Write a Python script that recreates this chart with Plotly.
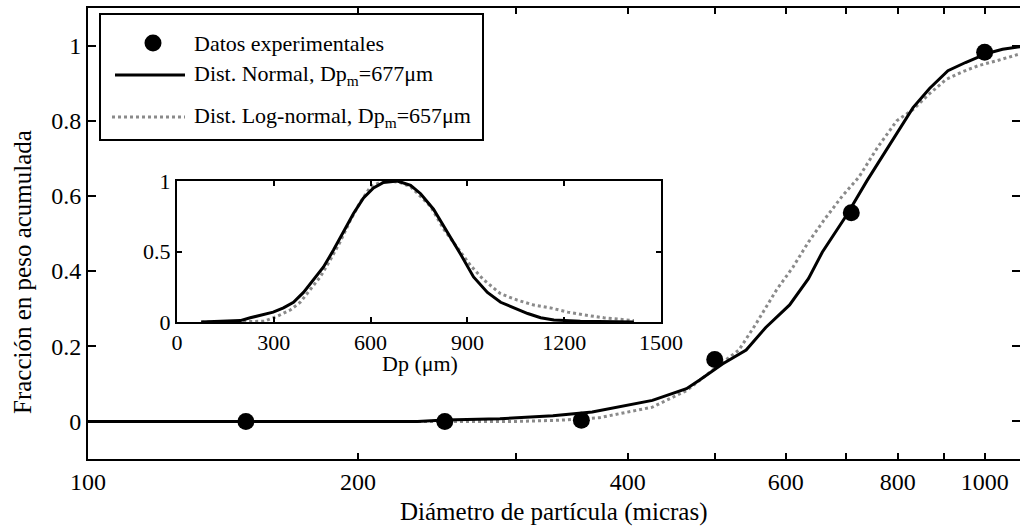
import numpy as np
import plotly.graph_objects as go

# ---------------- data ----------------
sieve_dp = [150, 250, 355, 500, 710, 1000]
frac_exp = [0.0, 0.0, 0.003, 0.165, 0.555, 0.982]

norm_dp = [100, 150, 200, 233, 250, 288, 330, 365, 426, 465, 481, 510, 542, 570, 606, 636,
           659, 702, 739, 760, 798, 832, 868, 910, 952, 1006, 1047, 1095]
norm_frac = [0.0, 0.0, 0.0, 0.0, 0.004, 0.007, 0.015, 0.025, 0.056, 0.087, 0.11, 0.153, 0.19,
             0.25, 0.31, 0.38, 0.45, 0.55, 0.64, 0.686, 0.766, 0.835, 0.886, 0.933, 0.955,
             0.979, 0.99, 0.997]

logn_dp = [100, 150, 200, 250, 300, 335, 372, 426, 465, 502, 532, 556, 586, 611, 636, 664,
           694, 724, 760, 798, 832, 868, 906, 944, 985, 1033, 1075, 1095]
logn_frac = [0.0, 0.0, 0.0, 0.0, 0.0, 0.003, 0.01, 0.038, 0.082, 0.144, 0.19, 0.26, 0.35,
             0.41, 0.477, 0.54, 0.60, 0.65, 0.73, 0.80, 0.83, 0.872, 0.91, 0.93, 0.947,
             0.96, 0.973, 0.978]

inset_norm_dp = [75, 196, 227, 267, 298, 330, 361, 392, 423, 454, 485, 516, 547, 578, 609,
                 640, 683, 724, 755, 795, 838, 879, 919, 962, 1003, 1044, 1087, 1127, 1168,
                 1250, 1330, 1416]
inset_norm_f = [0.0, 0.01, 0.03, 0.05, 0.07, 0.10, 0.14, 0.21, 0.30, 0.39, 0.51, 0.64, 0.77,
                0.88, 0.95, 0.99, 1.0, 0.97, 0.91, 0.80, 0.64, 0.48, 0.32, 0.21, 0.14, 0.10,
                0.06, 0.03, 0.015, 0.005, 0.002, 0.0]

inset_logn_dp = [75, 200, 270, 310, 351, 382, 413, 444, 475, 506, 537, 568, 600, 640, 657,
                 690, 724, 786, 826, 869, 910, 950, 1003, 1055, 1106, 1158, 1211, 1262, 1323,
                 1416]
inset_logn_f = [0.0, 0.0, 0.005, 0.04, 0.085, 0.14, 0.23, 0.32, 0.44, 0.57, 0.72, 0.85, 0.96,
                1.0, 1.0, 0.99, 0.96, 0.82, 0.66, 0.53, 0.40, 0.30, 0.20, 0.155, 0.12, 0.10,
                0.07, 0.05, 0.03, 0.01]

x_tickvals = [100, 200, 400, 600, 800, 1000]
x_ticktext = ["100", "200", "400", "600", "800", "1000"]
x_minorvals = [300, 500, 700, 900]
y_tickvals = [0, 0.2, 0.4, 0.6, 0.8, 1.0]
y_ticktext = ["0", "0.2", "0.4", "0.6", "0.8", "1"]
inset_x_ticks = [0, 300, 600, 900, 1200, 1500]
inset_y_ticks = [0, 0.5, 1]
inset_y_text = ["0", "0.5", "1"]

legend_labels = ["Datos experimentales",
                 "Dist. Normal, Dp<sub>m</sub>=677μm",
                 "Dist. Log-normal, Dp<sub>m</sub>=657μm"]

# ---------------- layout helpers ----------------
FONT = "Liberation Serif, Times New Roman, serif"
W, H = 1020, 526
L, R, T, B = 88, 0, 8, 67
pw, ph = W - L - R, H - T - B


def px(x):
    return (x - L) / pw


def py(y):
    return (H - B - y) / ph


GRAY = "#8a8a8a"

fig = go.Figure()
fig.add_trace(go.Scatter(x=logn_dp, y=logn_frac, mode="lines",
                         line=dict(color=GRAY, width=3, dash="dot"), showlegend=False))
fig.add_trace(go.Scatter(x=norm_dp, y=norm_frac, mode="lines",
                         line=dict(color="black", width=3), showlegend=False))
fig.add_trace(go.Scatter(x=sieve_dp, y=frac_exp, mode="markers",
                         marker=dict(color="black", size=17), showlegend=False))

fig.add_trace(go.Scatter(x=inset_logn_dp, y=inset_logn_f, mode="lines", xaxis="x2", yaxis="y2",
                         line=dict(color=GRAY, width=3, dash="dot"), showlegend=False))
fig.add_trace(go.Scatter(x=inset_norm_dp, y=inset_norm_f, mode="lines", xaxis="x2", yaxis="y2",
                         line=dict(color="black", width=3), showlegend=False))

axis_common = dict(showline=True, linewidth=2, linecolor="black", mirror="ticks",
                   ticks="inside", tickcolor="black", tickwidth=1.5, showgrid=False,
                   zeroline=False, automargin=False)

fig.update_layout(
    width=W, height=H,
    margin=dict(l=L, r=R, t=T, b=B, autoexpand=False),
    paper_bgcolor="white", plot_bgcolor="white",
    font=dict(family=FONT, color="black", size=24),
    xaxis=dict(type="log", range=[2, np.log10(1095)], tickmode="array",
               tickvals=x_tickvals, ticktext=x_ticktext, ticklen=6, tickfont=dict(size=24),
               minor=dict(tickmode="array", tickvals=x_minorvals, ticks="inside",
                          ticklen=6, tickwidth=1.5, tickcolor="black", showgrid=False),
               domain=[0, 1], anchor="y", **axis_common),
    yaxis=dict(range=[-0.1, 1.1], tickvals=y_tickvals, ticktext=y_ticktext,
               ticklen=8, tickfont=dict(size=24), domain=[0, 1], anchor="x",
               **axis_common),
    xaxis2=dict(range=[0, 1500], tickvals=inset_x_ticks, ticklen=5,
                tickfont=dict(size=22), domain=[px(177), px(661)], anchor="y2",
                **axis_common),
    yaxis2=dict(range=[0, 1], tickvals=inset_y_ticks, ticktext=inset_y_text, ticklen=5,
                tickfont=dict(size=22), domain=[py(322), py(181)], anchor="x2",
                **axis_common),
)

annotations = [
    dict(text="Diámetro de partícula (micras)", x=px(554), y=py(512), xref="paper",
         yref="paper", showarrow=False, font=dict(size=25), xanchor="center",
         yanchor="middle"),
    dict(text="Fracción en peso acumulada", x=px(22), y=py(272), xref="paper",
         yref="paper", showarrow=False, font=dict(size=25), textangle=-90,
         xanchor="center", yanchor="middle"),
    dict(text="Dp (μm)", x=px(420), y=py(363), xref="paper", yref="paper",
         showarrow=False, font=dict(size=22), xanchor="center", yanchor="middle"),
]

# custom legend
leg_rows = [43, 75, 117]
for lab, ry in zip(legend_labels, leg_rows):
    annotations.append(dict(text=lab, x=px(192), y=py(ry), xref="paper", yref="paper",
                            showarrow=False, font=dict(size=22), xanchor="left",
                            yanchor="middle"))

shapes = [
    dict(type="rect", xref="paper", yref="paper", x0=px(100), x1=px(483),
         y0=py(140), y1=py(14), line=dict(color="black", width=2), fillcolor="white",
         layer="below"),
    dict(type="circle", xref="paper", yref="paper", x0=px(153 - 8.5), x1=px(153 + 8.5),
         y0=py(43 + 8.5), y1=py(43 - 8.5), fillcolor="black", line=dict(width=0)),
    dict(type="line", xref="paper", yref="paper", x0=px(115), x1=px(185),
         y0=py(75), y1=py(75), line=dict(color="black", width=3)),
    dict(type="line", xref="paper", yref="paper", x0=px(112), x1=px(185),
         y0=py(117), y1=py(117), line=dict(color=GRAY, width=3, dash="dot")),
]

fig.update_layout(annotations=annotations, shapes=shapes)
fig.write_html("out.html")
